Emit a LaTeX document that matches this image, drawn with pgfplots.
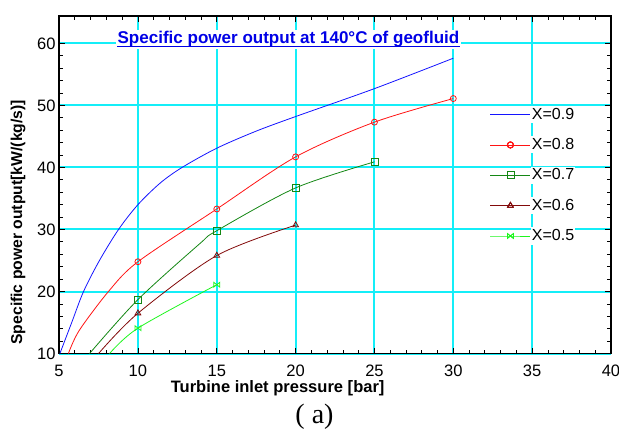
\documentclass[border=0pt]{standalone}
\usepackage{pgfplots}
\pgfplotsset{compat=1.18}
\usepackage{fontspec}
\setmainfont{Liberation Sans}
\newfontfamily\seriffont{Liberation Serif}

\definecolor{gridcyan}{RGB}{20,238,248}
\definecolor{c09}{RGB}{20,20,255}
\definecolor{c08}{RGB}{255,20,20}
\definecolor{c07}{RGB}{20,135,20}
\definecolor{c06}{RGB}{130,10,10}
\definecolor{c05}{RGB}{30,245,30}
\definecolor{titleblue}{RGB}{0,0,230}

% bowtie marker for X=0.5
\pgfdeclareplotmark{bowtie}{%
  \pgfpathmoveto{\pgfqpoint{-\pgfplotmarksize}{0.8\pgfplotmarksize}}%
  \pgfpathlineto{\pgfqpoint{\pgfplotmarksize}{-0.8\pgfplotmarksize}}%
  \pgfpathlineto{\pgfqpoint{\pgfplotmarksize}{0.8\pgfplotmarksize}}%
  \pgfpathlineto{\pgfqpoint{-\pgfplotmarksize}{-0.8\pgfplotmarksize}}%
  \pgfpathclose\pgfusepathqstroke}

\begin{document}
\begin{tikzpicture}
\begin{axis}[
    scale only axis,
    width=551pt, height=337pt,
    xmin=5, xmax=40, ymin=10, ymax=64.4,
    xtick={5,10,...,40}, ytick={10,20,...,60},
    minor x tick num=4, minor y tick num=4,
    grid=major,
    grid style={color=gridcyan, line width=2pt},
    major grid style={color=gridcyan, line width=2pt},
    tick align=inside, xtick pos=both, ytick pos=both,
    major tick length=6pt, minor tick length=3.5pt,
    tick style={black, line width=0.8pt},
    axis line style={line width=1.5pt},
    /pgf/number format/assume math mode=true,
    tick label style={font=\fontsize{16.5}{18}\selectfont},
    x tick label style={anchor=base, inner sep=0pt, yshift=-23pt},
    xlabel={\textbf{Turbine inlet pressure [bar]}},
    xlabel style={at={(axis description cs:0.396,-0.1142)}, anchor=base,
        inner sep=0pt, font=\fontsize{16.5}{18}\selectfont},
    ylabel={\textbf{Specific power output[kW/(kg/s)]}},
    ylabel style={at={(axis description cs:-0.0744,0.389)}, anchor=center,
        font=\fontsize{15.7}{18}\selectfont},
    legend style={
        at={(axis description cs:0.7804,0.7338)}, anchor=north west,
        fill=none, draw=none, inner sep=0pt,
        font=\fontsize{16}{18}\selectfont,
        nodes={fill=white, inner sep=1pt, text height=12pt, text depth=3pt},
        row sep=13.3pt, column sep=0pt,
    },
    legend cell align=left,
    legend image code/.code={
        \draw[sharp plot]
            plot coordinates {(0pt,0pt) (20pt,0pt) (20pt,0pt) (20pt,0pt)
                (20pt,0pt) (20pt,0pt) (20pt,0pt) (20pt,0pt) (40pt,0pt)};
    },
    every axis plot/.append style={line width=0.8pt},
]

% X=0.9 (no markers)
\addplot[c09, smooth] coordinates {
    (5.05,10) (5.8,15) (6.55,20) (7.56,25) (8.77,30) (10,34.0) (11.42,37.5)
    (12.8,40) (15,43.1) (17.5,45.85) (20,48.2) (25,52.7) (30,57.6)
};
\addlegendentry{X=0.9}

% X=0.8
\addplot[c08, smooth, mark=o, mark size=3pt, mark indices={4,5,6,7,8}] coordinates {
    (5.59,10) (6.27,13.7) (8.13,20) (10,24.8) (15,33.3)
    (20,41.7) (25,47.3) (30,51.1)
};
\addlegendentry{X=0.8}

% X=0.7
\addplot[c07, smooth, mark=square, mark size=3.5pt, mark indices={2,4,5,6}] coordinates {
    (6.93,10) (10,18.7) (13.96,27.8) (15,29.8) (20,36.7) (25,40.9)
};
\addlegendentry{X=0.7}

% X=0.6
\addplot[c06, smooth, mark=triangle, mark size=3.3pt, mark indices={2,3,4}] coordinates {
    (7.5,10) (10,16.5) (15,25.8) (20,30.7)
};
\addlegendentry{X=0.6}

% X=0.5
\addplot[c05, smooth, mark=bowtie, mark size=3pt, mark indices={2,3}] coordinates {
    (8.2,10) (10,14.1) (15,21.1)
};
\addlegendentry{X=0.5}

\coordinate (T) at (rel axis cs:0.4156,0.918);
\coordinate (A) at (rel axis cs:0.4628,-0.2077);
\end{axis}

\node[fill=white, inner sep=1.5pt, anchor=base, text=titleblue,
      font=\fontsize{17}{19}\selectfont\bfseries] (ttl) at (T)
      {Specific power output at 140°C of geofluid};
\draw[titleblue, line width=1.2pt]
    ([xshift=1.5pt,yshift=-2.5pt]ttl.base west) -- ([xshift=-1.5pt,yshift=-2.5pt]ttl.base east);
\node[anchor=base, font=\fontsize{28}{30}\selectfont\seriffont] at (A) {( a)};

\pgfresetboundingbox
\path ([shift={(-59pt,-75pt)}]current axis.south west)
    rectangle ([shift={(8pt,16pt)}]current axis.north east);
\end{tikzpicture}
\end{document}
